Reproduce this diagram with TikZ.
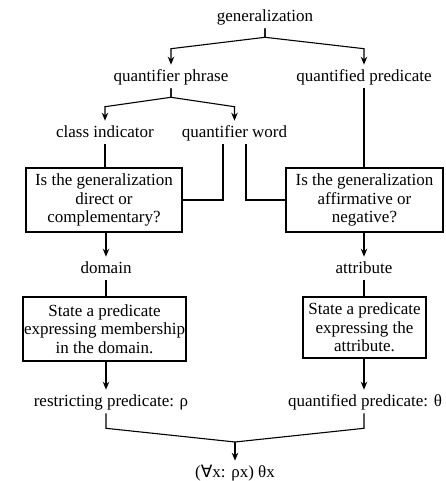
\documentclass[tikz,border=0pt]{standalone}
\usepackage{fontspec}
\setmainfont{Liberation Serif}
\newfontfamily\symb{DejaVu Sans}
\usepackage{tikz}
\usetikzlibrary{positioning,calc,arrows.meta}
\tikzstyle{lbl} = [inner sep=2.5pt, text height=12.5pt, text depth=4pt, font=\fontsize{17}{18.5}\selectfont]
\tikzstyle{block} = [draw, rectangle, align=center, inner xsep=1pt, minimum height=64pt, font=\fontsize{17}{18.5}\selectfont]
\tikzstyle{to} = [->,>={Stealth[length=8pt,width=6.5pt]},shorten >=1pt]
\begin{document}
\begin{tikzpicture}[x=1pt,y=-1pt,line width=1.1pt]
		\useasboundingbox (0,0) rectangle (445,481);
		\node (gen) [lbl] at (265,17) {generalization};
		\node (qphr) [lbl] at (171,77) {quantifier phrase};
		\node (qpred) [lbl] at (364,77) {quantified predicate};
		\node (ci) [lbl] at (105,133) {class indicator};
		\node (qw) [lbl] at (234.5,133) {quantifier word};
		\node (dir) [block, minimum width=156pt] at (104,200) {Is the generalization\\direct or\\complementary?};
		\node (aff) [block, minimum width=157pt] at (364.5,200) {Is the generalization\\affirmative or\\negative?};
		\node (dom) [lbl] at (106,269) {domain};
		\node (attr) [lbl] at (364,269) {attribute};
		\node (mem) [block, minimum width=163pt] at (104.5,329) {State a predicate\\expressing membership\\in the domain.};
		\node (attrbox) [block, minimum width=123pt, minimum height=61pt] at (364.5,327.5) {State a predicate\\expressing the\\attribute.};
		\node (rp) [lbl] at (111,402) {restricting predicate: ρ};
		\node (qp2) [lbl] at (365,402) {quantified predicate: θ};
		\node (fin) [lbl] at (235,473) {({\symb ∀}x: ρx) θx};
		\coordinate (join) at (235,442);
		% upper forks
		\draw[to] (gen.south) -- ++(0,9) -- ([yshift=17pt]qphr.north) -- (qphr.north);
		\draw[to] (gen.south) -- ++(0,9) -- ([yshift=17pt]qpred.north) -- (qpred.north);
		\draw[to] (qphr.south) -- ++(0,9) -- ([yshift=15pt]ci.north) -- (ci.north);
		\draw[to] (qphr.south) -- ++(0,9) -- ([yshift=15pt]qw.north) -- (qw.north);
		\draw (ci.south) -- (ci.south |- dir.north);
		\draw (qpred.south) -- (qpred.south |- aff.north);
		\draw ([xshift=-11.5pt]qw.south) |- (dir.east);
		\draw ([xshift=11.5pt]qw.south) |- (aff.east -| aff.west);
		% boxes down
		\draw[to] (dom.north |- dir.south) -- (dom.north);
		\draw[to] (attr.north |- aff.south) -- (attr.north);
		\draw (dom.south) -- (dom.south |- mem.north);
		\draw (attr.south) -- (attr.south |- attrbox.north);
		\draw[to] (dom |- mem.south) -- (dom |- rp.north);
		\draw[to] (attr |- attrbox.south) -- (attr |- qp2.north);
		% join
		\draw (dom |- rp.south) -- ++(0,15) -- (join);
		\draw (attr |- qp2.south) -- ++(0,15) -- (join);
		\draw[to] (join) -- (fin);
\end{tikzpicture}
\end{document}
